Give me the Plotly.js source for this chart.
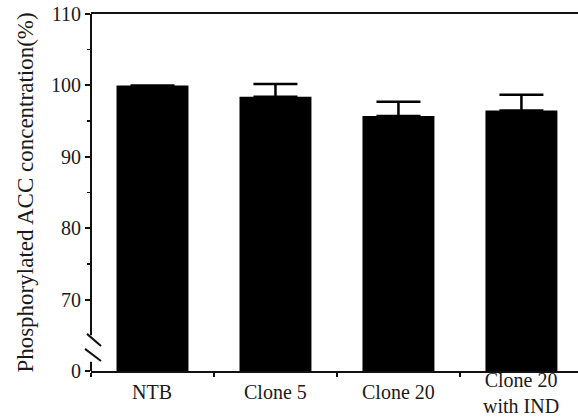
<!DOCTYPE html>
<html>
<head>
<meta charset="utf-8">
<script src="https://cdn.plot.ly/plotly-3.0.1.min.js"></script>
<style>
  html, body { margin: 0; padding: 0; background: #fff; }
  #chart { width: 578px; height: 417px; }
</style>
</head>
<body>
<div id="chart"></div>
<script>
// ---- data ----
const categories = ['NTB', 'Clone 5', 'Clone 20', 'Clone 20<br>with IND'];
const values = [100, 98.4, 95.7, 96.5];
const errorsUp = [null, 1.8, 2.0, 2.2];
const errorsDown = [0, 0, 0, 0];
// broken axis: the "0" label sits where 60 would be
const yTickVals = [60, 70, 80, 90, 100, 110];
const yTickText = ['0', '70', '80', '90', '100', '110'];
const yMinorVals = [75, 85, 95, 105];
const yRange = [60, 110];
const breakGap = [61.3, 65.0];   // gap in the y axis line
const breakMarks = [[65.2, 63.5], [63.1, 61.4]];

const fontFam = '"Liberation Serif", "Times New Roman", Times, serif';
const textColor = '#1a1a1a';

const trace = {
  type: 'bar',
  x: categories,
  y: values,
  marker: { color: '#000', line: { width: 0 } },
  error_y: {
    type: 'data', symmetric: false,
    array: errorsUp, arrayminus: errorsDown,
    color: '#000', thickness: 2.5, width: 22
  },
  hoverinfo: 'skip'
};

const shapes = [
  { type: 'line', xref: 'paper', yref: 'y', x0: 0, x1: 0, y0: yRange[1], y1: breakGap[1],
    line: { color: '#111', width: 2 } },
  { type: 'line', xref: 'paper', yref: 'y', x0: 0, x1: 0, y0: breakGap[0], y1: yRange[0],
    line: { color: '#111', width: 2 } },
  { type: 'line', xref: 'paper', yref: 'y', xsizemode: 'pixel', xanchor: 0,
    x0: -4, x1: 10, y0: breakMarks[0][0], y1: breakMarks[0][1],
    line: { color: '#111', width: 2 } },
  { type: 'line', xref: 'paper', yref: 'y', xsizemode: 'pixel', xanchor: 0,
    x0: -6, x1: 10, y0: breakMarks[1][0], y1: breakMarks[1][1],
    line: { color: '#111', width: 2 } }
];

// category labels as annotations so the two-line label sits higher, as in the reference
const annotations = categories.map(function (c) {
  const lines = c.split('<br>').length;
  return {
    xref: 'x', yref: 'paper', x: c, y: 0,
    text: c, showarrow: false,
    yanchor: 'middle', xanchor: 'center',
    yshift: -(21 + 1 * (lines - 1)),
    font: { family: fontFam, size: 20, color: textColor }
  };
});

const layout = {
  width: 578, height: 417,
  margin: { l: 91, r: 0, t: 14, b: 46 },
  paper_bgcolor: '#fff', plot_bgcolor: '#fff',
  showlegend: false,
  bargap: 0.415,
  font: { family: fontFam, color: textColor, size: 20 },
  xaxis: {
    type: 'category',
    range: [-0.5, 3.46],
    showline: true, linecolor: '#111', linewidth: 2, mirror: true,
    ticks: 'outside', tickson: 'boundaries', ticklen: 4, tickwidth: 1.5, tickcolor: '#111',
    showticklabels: false,
    showgrid: false, zeroline: false, fixedrange: true
  },
  yaxis: {
    range: yRange,
    tickmode: 'array', tickvals: yTickVals, ticktext: yTickText,
    ticks: 'outside', ticklen: 5, tickwidth: 2, tickcolor: '#111',
    minor: { tickmode: 'array', tickvals: yMinorVals, ticks: 'outside', ticklen: 3, tickwidth: 1.5, tickcolor: '#111' },
    showline: false, showgrid: false, zeroline: false,
    tickfont: { family: fontFam, size: 20, color: textColor },
    title: { text: 'Phosphorylated ACC concentration(%)', font: { family: fontFam, size: 23, color: textColor }, standoff: 10 },
    fixedrange: true
  },
  shapes: shapes,
  annotations: annotations
};

Plotly.newPlot('chart', [trace], layout, { displayModeBar: false, staticPlot: true });
</script>
</body>
</html>
